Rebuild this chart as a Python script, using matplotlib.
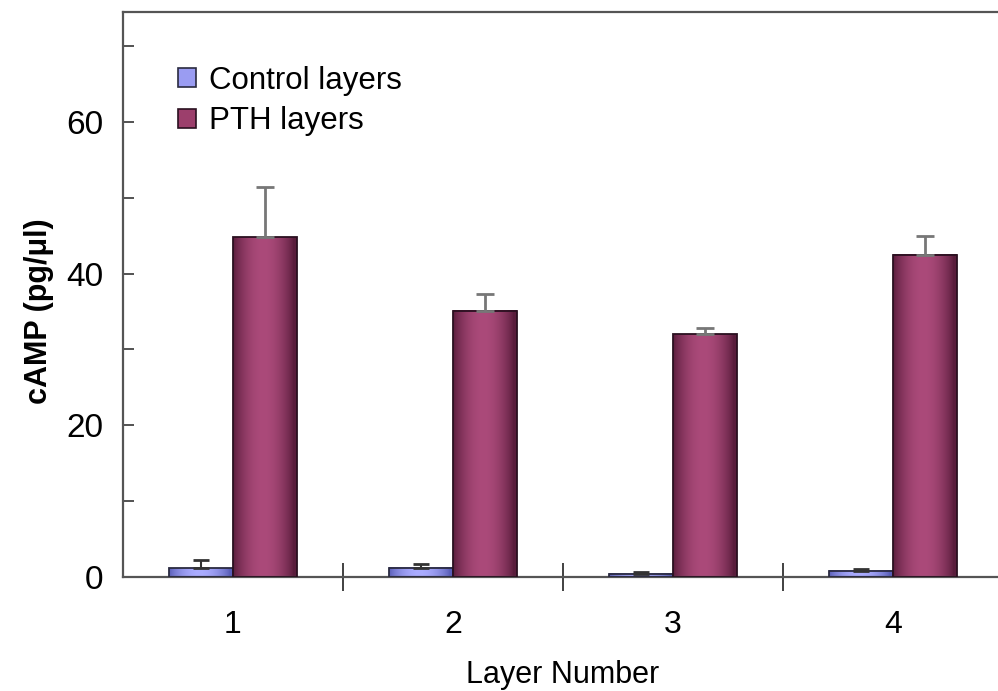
import numpy as np
import matplotlib
matplotlib.use("Agg")
import matplotlib.pyplot as plt
from matplotlib.patches import Patch
from matplotlib.colors import to_rgb

plt.rcParams['font.family'] = ['Liberation Sans', 'DejaVu Sans']

# data
layers = ['1', '2', '3', '4']
control = [1.15, 1.2, 0.45, 0.8]
control_err = [1.1, 0.5, 0.2, 0.25]
pth = [44.8, 35.1, 32.0, 42.5]
pth_err = [6.6, 2.2, 0.8, 2.5]

bar_w = 0.29


def shaded_bar(ax, x, h, dark, light, edge):
    # horizontal gradient: dark edges, light middle (cylinder look)
    t = np.linspace(0, 1, 64)
    prof = np.sin(np.pi * np.clip(t * 1.05, 0, 1)) ** 0.8
    d, l = np.array(to_rgb(dark)), np.array(to_rgb(light))
    img = d[None, :] + (l - d)[None, :] * prof[:, None]
    ax.imshow(img[None, :, :], extent=(x - bar_w / 2, x + bar_w / 2, 0, h),
              aspect='auto', interpolation='bilinear', zorder=2)
    ax.add_patch(plt.Rectangle((x - bar_w / 2, 0), bar_w, h, fill=False,
                               edgecolor=edge, lw=1.3, zorder=3))


fig = plt.figure(figsize=(9.98, 6.91), dpi=100)
ax = fig.add_axes([123 / 998, (691 - 577) / 691, 880 / 998, 565 / 691])

xs = np.arange(1, len(layers) + 1)
for i, x in enumerate(xs):
    shaded_bar(ax, x - bar_w / 2, control[i], '#5a5fb8', '#aaacff', '#2a2a40')
    shaded_bar(ax, x + bar_w / 2, pth[i], '#5a1d3c', '#ab4a7a', '#2a1020')

ax.errorbar(xs - bar_w / 2, control, yerr=[np.zeros(4), control_err], fmt='none',
            ecolor='#333333', elinewidth=1.5, capsize=6, capthick=2, zorder=4)
ax.errorbar(xs + bar_w / 2, pth, yerr=[np.zeros(4), pth_err], fmt='none',
            ecolor='#777777', elinewidth=2, capsize=6.5, capthick=2, zorder=4)

ax.set_xlim(0.5, 4.5)
ax.set_ylim(0, 74.5)

ax.set_xticks(xs)
ax.set_xticklabels(layers, fontsize=23)
ax.set_xticks(np.arange(1.5, 4.5, 1), minor=True)
ax.tick_params(axis='x', which='major', length=0, pad=24)
ax.tick_params(axis='x', which='minor', direction='inout', length=20, width=1.3, color='#333333')

ax.set_yticks([0, 20, 40, 60])
ax.set_yticks([10, 30, 50, 70], minor=True)
ax.tick_params(axis='y', which='both', direction='in', length=8, width=1.3,
               color='#444444', labelsize=24, pad=14)

for s in ['left', 'top', 'bottom', 'right']:
    ax.spines[s].set_color('#555555')
    ax.spines[s].set_linewidth(1.6)

ax.set_xlabel('Layer Number', fontsize=22, labelpad=14)
ax.set_ylabel('cAMP (pg/μl)', fontsize=22, fontweight='bold')
ax.yaxis.set_label_coords(-0.078, 0.47)

handles = [Patch(facecolor='#9a9cf2', edgecolor='#2a2a40', lw=1.2),
           Patch(facecolor='#9c3f6c', edgecolor='#2a1020', lw=1.2)]
ax.legend(handles, ['Control layers', 'PTH layers'], loc='upper left',
          bbox_to_anchor=(0.03, 0.955), frameon=False, fontsize=22.5,
          handlelength=0.6, handleheight=0.6, handletextpad=0.4, labelspacing=0.35)

fig.savefig('out.png', dpi=100)
